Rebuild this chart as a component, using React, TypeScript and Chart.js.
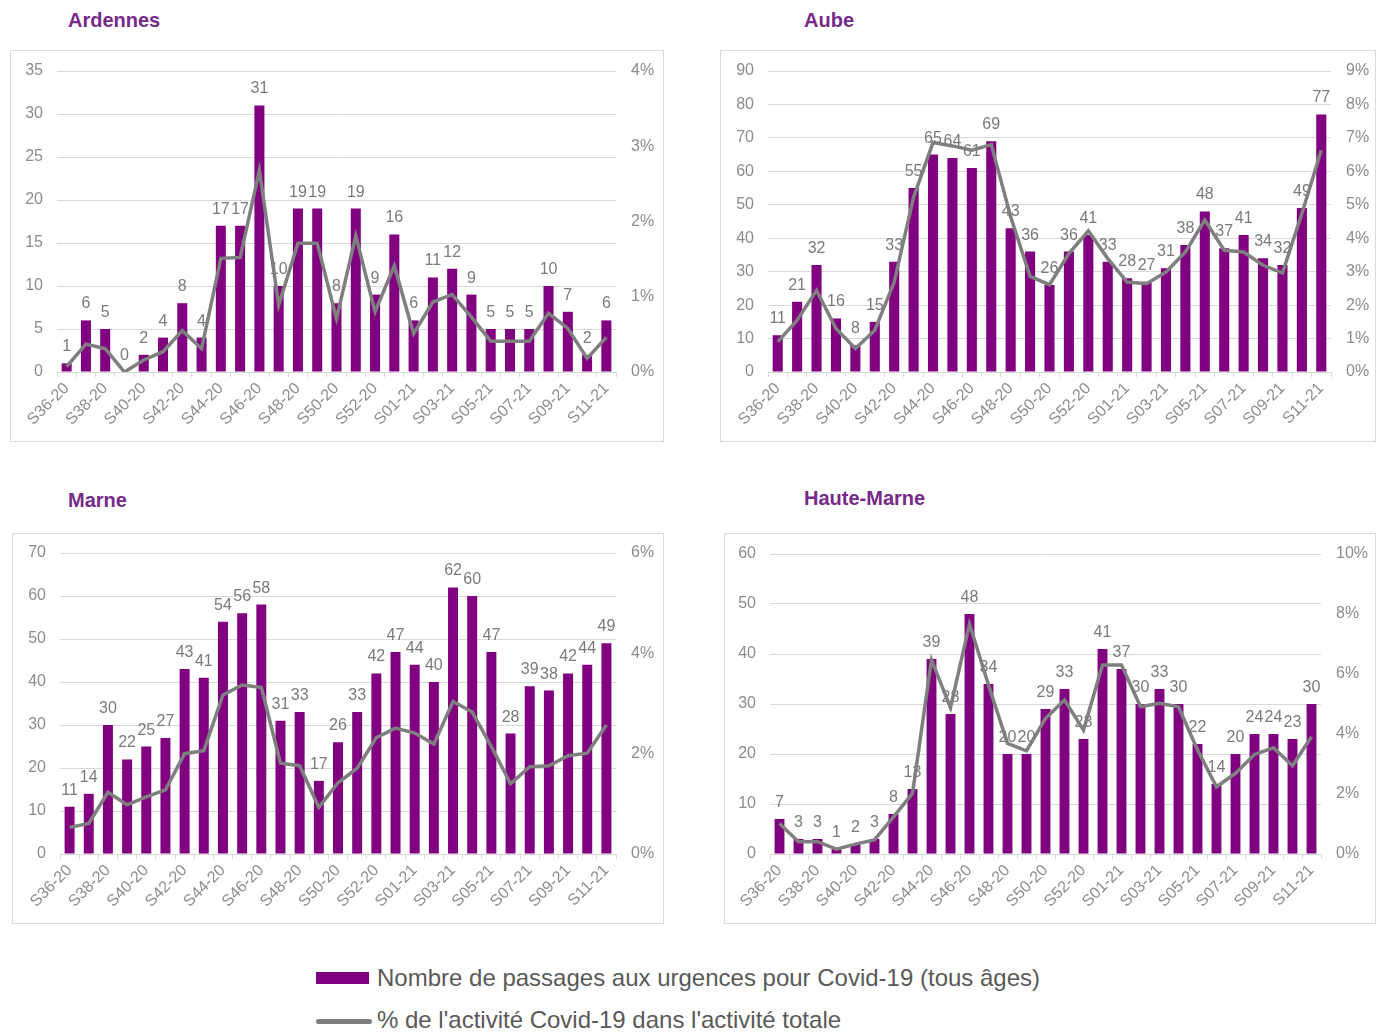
import React, { useEffect, useRef } from "react";
import { Chart, registerables } from "chart.js";

Chart.register(...registerables);

const weeks: string[] = [
  "S36-20", "S37-20", "S38-20", "S39-20", "S40-20", "S41-20", "S42-20", "S43-20", "S44-20", "S45-20",
  "S46-20", "S47-20", "S48-20", "S49-20", "S50-20", "S51-20", "S52-20", "S53-20",
  "S01-21", "S02-21", "S03-21", "S04-21", "S05-21", "S06-21", "S07-21", "S08-21", "S09-21", "S10-21", "S11-21",
];

const ardennesPassages = [1, 6, 5, 0, 2, 4, 8, 4, 17, 17, 31, 10, 19, 19, 8, 19, 9, 16, 6, 11, 12, 9, 5, 5, 5, 10, 7, 2, 6];
const ardennesPct = [0.07, 0.37, 0.31, 0.0, 0.16, 0.27, 0.55, 0.31, 1.51, 1.52, 2.68, 0.89, 1.71, 1.71, 0.71, 1.81, 0.8, 1.41, 0.51, 0.93, 1.03, 0.73, 0.41, 0.41, 0.41, 0.78, 0.58, 0.18, 0.46];

const aubePassages = [11, 21, 32, 16, 8, 15, 33, 55, 65, 64, 61, 69, 43, 36, 26, 36, 41, 33, 28, 27, 31, 38, 48, 37, 41, 34, 32, 49, 77];
const aubePct = [0.9, 1.55, 2.44, 1.3, 0.7, 1.25, 2.69, 5.23, 6.86, 6.76, 6.63, 6.8, 4.64, 2.86, 2.61, 3.54, 4.22, 3.39, 2.69, 2.64, 2.99, 3.59, 4.54, 3.64, 3.59, 3.19, 2.96, 4.74, 6.63];

const marnePassages = [11, 14, 30, 22, 25, 27, 43, 41, 54, 56, 58, 31, 33, 17, 26, 33, 42, 47, 44, 40, 62, 60, 47, 28, 39, 38, 42, 44, 49];
const marnePct = [0.53, 0.61, 1.23, 0.98, 1.14, 1.28, 2.0, 2.06, 3.17, 3.37, 3.32, 1.81, 1.76, 0.93, 1.42, 1.71, 2.32, 2.51, 2.41, 2.19, 3.04, 2.83, 2.14, 1.4, 1.74, 1.76, 1.96, 2.01, 2.57];

const hauteMarnePassages = [7, 3, 3, 1, 2, 3, 8, 13, 39, 28, 48, 34, 20, 20, 29, 33, 23, 41, 37, 30, 33, 30, 22, 14, 20, 24, 24, 23, 30];
const hauteMarnePct = [1.02, 0.41, 0.41, 0.16, 0.33, 0.47, 1.24, 2.02, 6.47, 4.88, 7.67, 5.63, 3.69, 3.44, 4.52, 5.13, 4.13, 6.3, 6.3, 4.91, 5.02, 4.91, 3.47, 2.24, 2.69, 3.32, 3.54, 2.94, 3.91];

const barLabel = "Nombre de passages aux urgences pour Covid-19 (tous âges)";
const lineLabel = "% de l'activité Covid-19 dans l'activité totale";

const PURPLE = "#800080";
const GREY_LINE = "#7f7f7f";
const TICK_COLOR = "#8c8c8c";
const LABEL_COLOR = "#7a7a7a";
const GRID = "#d9d9d9";
const FONT = "'Liberation Sans', Arial, sans-serif";

type PanelSpec = {
  title: string;
  titleX: number;
  titleY: number;
  frame: { x: number; y: number; w: number; h: number };
  plot: { l: number; r: number; t: number; b: number };
  bars: number[];
  pct: number[];
  leftMax: number;
  leftStep: number;
  rightMax: number;
  rightStep: number;
};

const panels: PanelSpec[] = [
  {
    title: "Ardennes", titleX: 68, titleY: 10,
    frame: { x: 10, y: 50, w: 654, h: 392 },
    plot: { l: 57, r: 616, t: 71, b: 372 },
    bars: ardennesPassages, pct: ardennesPct,
    leftMax: 35, leftStep: 5, rightMax: 4, rightStep: 1,
  },
  {
    title: "Aube", titleX: 804, titleY: 10,
    frame: { x: 720, y: 50, w: 656, h: 392 },
    plot: { l: 768, r: 1331, t: 71, b: 372 },
    bars: aubePassages, pct: aubePct,
    leftMax: 90, leftStep: 10, rightMax: 9, rightStep: 1,
  },
  {
    title: "Marne", titleX: 68, titleY: 490,
    frame: { x: 12, y: 533, w: 652, h: 391 },
    plot: { l: 60, r: 616, t: 553, b: 854 },
    bars: marnePassages, pct: marnePct,
    leftMax: 70, leftStep: 10, rightMax: 6, rightStep: 2,
  },
  {
    title: "Haute-Marne", titleX: 804, titleY: 488,
    frame: { x: 724, y: 533, w: 652, h: 391 },
    plot: { l: 770, r: 1321, t: 554, b: 854 },
    bars: hauteMarnePassages, pct: hauteMarnePct,
    leftMax: 60, leftStep: 10, rightMax: 10, rightStep: 2,
  },
];

const barLabelsPlugin = {
  id: "barValueLabels",
  afterDatasetDraw(chart: any, args: any) {
    if (args.index !== 0) return;
    const ctx = chart.ctx;
    const data = chart.data.datasets[0].data as number[];
    ctx.save();
    ctx.font = `16px ${FONT}`;
    ctx.fillStyle = LABEL_COLOR;
    ctx.textAlign = "center";
    ctx.textBaseline = "alphabetic";
    args.meta.data.forEach((el: any, i: number) => {
      ctx.fillText(String(data[i]), el.x, el.y - 12);
    });
    ctx.restore();
  },
};

function Panel({ spec }: { spec: PanelSpec }) {
  const ref = useRef<HTMLCanvasElement | null>(null);
  useEffect(() => {
    if (!ref.current) return;
    const { frame, plot } = spec;
    const leftW = plot.l - frame.x;
    const rightW = frame.x + frame.w - plot.r;
    const topPad = plot.t - frame.y;
    const bottomH = frame.y + frame.h - plot.b;
    const fixY = (w: number) => (s: any) => {
      s.width = w;
      s.paddingTop = 0;
      s.paddingBottom = 0;
    };
    const chart = new Chart(ref.current, {
      type: "bar",
      data: {
        labels: weeks,
        datasets: [
          {
            type: "bar",
            label: barLabel,
            data: spec.bars,
            backgroundColor: PURPLE,
            yAxisID: "y",
            order: 1,
            barPercentage: 0.52,
            categoryPercentage: 1,
          },
          {
            type: "line",
            label: lineLabel,
            data: spec.pct,
            borderColor: GREY_LINE,
            borderWidth: 3.5,
            pointRadius: 0,
            tension: 0,
            yAxisID: "y1",
            order: 0,
          },
        ],
      } as any,
      options: {
        responsive: false,
        animation: false,
        layout: { autoPadding: false, padding: { top: topPad, left: 0, right: 0, bottom: 0 } },
        plugins: { legend: { display: false }, tooltip: { enabled: false } },
        scales: {
          x: {
            grid: { display: true, drawOnChartArea: false, drawTicks: true, tickLength: 5, color: GRID, offset: true },
            border: { display: true, color: GRID },
            ticks: {
              autoSkip: false,
              maxRotation: 45,
              minRotation: 45,
              padding: 2,
              color: TICK_COLOR,
              font: { family: FONT, size: 16 },
              callback: function (this: any, value: any, index: number) {
                return index % 2 === 0 ? weeks[index] : "";
              },
            },
            afterFit: (s: any) => { s.height = bottomH; },
          },
          y: {
            position: "left",
            min: 0,
            max: spec.leftMax,
            grid: { color: GRID, drawTicks: false },
            border: { display: false },
            ticks: { stepSize: spec.leftStep, padding: 14, color: TICK_COLOR, font: { family: FONT, size: 16 } },
            afterFit: fixY(leftW),
          },
          y1: {
            position: "right",
            min: 0,
            max: spec.rightMax,
            grid: { display: false, drawTicks: false },
            border: { display: false },
            ticks: {
              stepSize: spec.rightStep,
              padding: 15,
              color: TICK_COLOR,
              font: { family: FONT, size: 16 },
              callback: (v: any) => `${v}%`,
            },
            afterFit: fixY(rightW),
          },
        },
      } as any,
      plugins: [barLabelsPlugin],
    });
    return () => chart.destroy();
  }, [spec]);

  const { frame } = spec;
  return (
    <>
      <div
        style={{
          position: "absolute",
          left: spec.titleX,
          top: spec.titleY,
          font: `bold 20px ${FONT}`,
          lineHeight: "20px",
          color: "#762a8a",
          whiteSpace: "nowrap",
        }}
      >
        {spec.title}
      </div>
      <div
        style={{
          position: "absolute",
          left: frame.x,
          top: frame.y,
          width: frame.w,
          height: frame.h,
          border: "1.5px solid #dcdcdc",
          boxSizing: "border-box",
        }}
      />
      <canvas
        ref={ref}
        width={frame.w}
        height={frame.h}
        style={{ position: "absolute", left: frame.x, top: frame.y, width: frame.w, height: frame.h }}
      />
    </>
  );
}

export default function App() {
  return (
    <div style={{ position: "absolute", left: 0, top: 0, width: 1383, height: 1032, background: "#fff", overflow: "hidden" }}>
      {panels.map((p) => (
        <Panel key={p.title} spec={p} />
      ))}
      <div style={{ position: "absolute", left: 316, top: 972, width: 53, height: 12, background: PURPLE }} />
      <div
        style={{
          position: "absolute",
          left: 377,
          top: 966,
          font: `24px ${FONT}`,
          lineHeight: "24px",
          color: "#595959",
          whiteSpace: "nowrap",
        }}
      >
        {barLabel}
      </div>
      <div
        style={{
          position: "absolute",
          left: 316,
          top: 1019,
          width: 56,
          height: 4.5,
          background: GREY_LINE,
          borderRadius: 3,
        }}
      />
      <div
        style={{
          position: "absolute",
          left: 377,
          top: 1008,
          font: `24px ${FONT}`,
          lineHeight: "24px",
          color: "#595959",
          whiteSpace: "nowrap",
        }}
      >
        {lineLabel}
      </div>
    </div>
  );
}
